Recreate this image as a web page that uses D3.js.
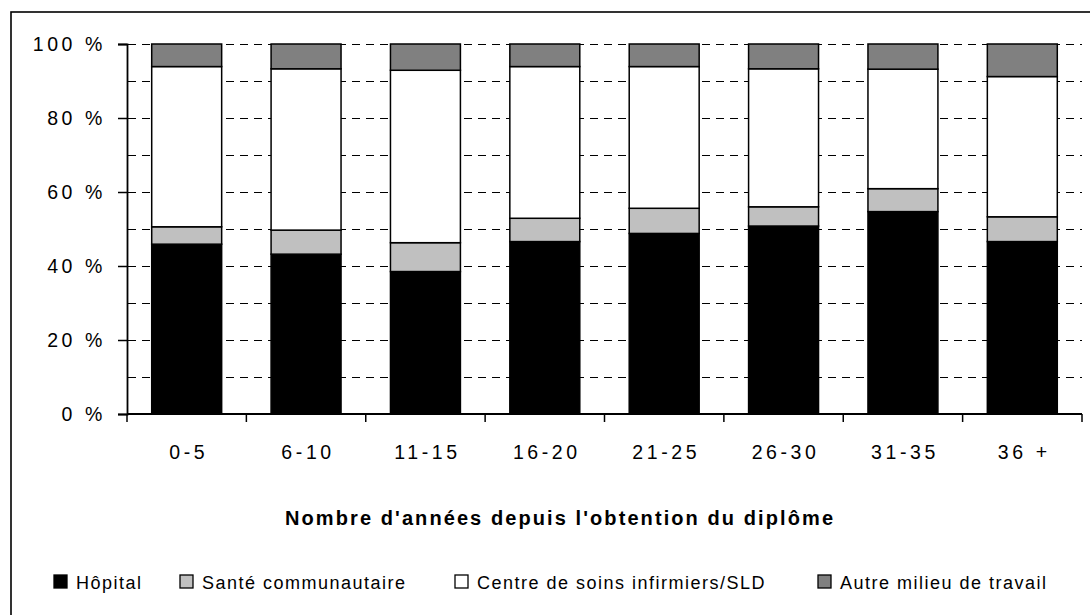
<!DOCTYPE html>
<html>
<head>
<meta charset="utf-8">
<script src="https://cdn.jsdelivr.net/npm/d3@7"></script>
<style>
  html, body { margin: 0; padding: 0; background: #fff; }
  svg { display: block; font-family: Arial, "Liberation Sans", sans-serif; }
</style>
</head>
<body>
<svg id="chart" width="1090" height="615"></svg>
<script>
// Years since graduation
const categories = ["0-5", "6-10", "11-15", "16-20", "21-25", "26-30", "31-35", "36 +"];

// Share of nurses by work setting (%)
const hopital = [45.9, 43.2, 38.5, 46.6, 48.8, 50.8, 54.7, 46.6];
const santeCommunautaire = [4.7, 6.5, 7.8, 6.3, 6.8, 5.2, 6.2, 6.7];
const centreSoins = [43.3, 43.6, 46.6, 41.0, 38.3, 37.3, 32.3, 37.9];
const autreMilieu = [6.1, 6.7, 7.1, 6.1, 6.1, 6.7, 6.8, 8.8];

const seriesNames = ["Hôpital", "Santé communautaire", "Centre de soins infirmiers/SLD", "Autre milieu de travail"];
const seriesColors = ["#000000", "#c0c0c0", "#ffffff", "#808080"];
const yTicks = [0, 20, 40, 60, 80, 100];
const gridValues = [10, 20, 30, 40, 50, 60, 70, 80, 90, 100];
const xTitle = "Nombre d'années depuis l'obtention du diplôme";

const rows = categories.map((c, i) => ({
  cat: c,
  s0: hopital[i], s1: santeCommunautaire[i], s2: centreSoins[i], s3: autreMilieu[i]
}));
const keys = ["s0", "s1", "s2", "s3"];

const svg = d3.select("#chart");

// outer frame
svg.append("rect")
  .attr("x", 11).attr("y", 12)
  .attr("width", 1200).attr("height", 700)
  .attr("fill", "none").attr("stroke", "#000").attr("stroke-width", 1.6);

const plot = { left: 127, right: 1082, top: 44, bottom: 414 };

const x = d3.scaleBand()
  .domain(categories)
  .range([plot.left, plot.right])
  .paddingInner(0.414)
  .paddingOuter(0.207);

const y = d3.scaleLinear().domain([0, 100]).range([plot.bottom, plot.top]);

// dashed gridlines
svg.append("g")
  .selectAll("line")
  .data(gridValues)
  .join("line")
  .attr("x1", plot.left + 1).attr("x2", plot.right)
  .attr("y1", d => Math.round(y(d)) + 0.5).attr("y2", d => Math.round(y(d)) + 0.5)
  .attr("stroke", "#000").attr("stroke-width", 1.1)
  .attr("stroke-dasharray", "8,6");

// stacked bars
const stacked = d3.stack().keys(keys)(rows);
svg.append("g")
  .selectAll("g")
  .data(stacked)
  .join("g")
  .attr("fill", (d, i) => seriesColors[i])
  .selectAll("rect")
  .data(d => d)
  .join("rect")
  .attr("x", d => x(d.data.cat))
  .attr("width", x.bandwidth())
  .attr("y", d => y(d[1]))
  .attr("height", d => y(d[0]) - y(d[1]))
  .attr("stroke", "#000")
  .attr("stroke-width", 1.5);

// y axis
const yAxis = d3.axisLeft(y).tickValues(yTicks).tickSize(9).tickFormat(d => d + " %");
const gy = svg.append("g").attr("transform", `translate(${plot.left},0)`).call(yAxis);
gy.select(".domain").attr("stroke-width", 1.8);
gy.selectAll(".tick line").attr("stroke-width", 1.5);
gy.selectAll(".tick text")
  .attr("x", -21)
  .attr("font-size", 19.5)
  .attr("letter-spacing", 3.6)
  .attr("fill", "#000")
  .attr("font-family", "Arial, 'Liberation Sans', sans-serif");

// x axis: ticks at category boundaries
svg.append("line")
  .attr("x1", plot.left).attr("x2", plot.right)
  .attr("y1", plot.bottom).attr("y2", plot.bottom)
  .attr("stroke", "#000").attr("stroke-width", 1.8);
const step = x.step();
const boundaries = d3.range(categories.length + 1).map(i => plot.left + i * step);
svg.append("g")
  .selectAll("line")
  .data(boundaries)
  .join("line")
  .attr("x1", d => d).attr("x2", d => d)
  .attr("y1", plot.bottom).attr("y2", plot.bottom + 8)
  .attr("stroke", "#000").attr("stroke-width", 1.5);

svg.append("g")
  .selectAll("text")
  .data(categories)
  .join("text")
  .attr("x", d => x(d) + x.bandwidth() / 2 + 2)
  .attr("y", 459)
  .attr("text-anchor", "middle")
  .attr("font-size", 19.5)
  .attr("letter-spacing", 3.6)
  .text(d => d);

// axis title
svg.append("text")
  .attr("x", 559).attr("y", 525)
  .attr("text-anchor", "middle")
  .attr("font-size", 20)
  .attr("font-weight", "bold")
  .attr("textLength", 548)
  .attr("lengthAdjust", "spacing")
  .text(xTitle);

// legend
const legendX = [54, 180, 455, 818];
const legend = svg.append("g")
  .selectAll("g")
  .data(seriesNames)
  .join("g")
  .attr("transform", (d, i) => `translate(${legendX[i]},575)`);
legend.append("rect")
  .attr("width", 13).attr("height", 13)
  .attr("fill", (d, i) => seriesColors[i])
  .attr("stroke", "#000").attr("stroke-width", 1.3);
legend.append("text")
  .attr("x", 22).attr("y", 13.5)
  .attr("font-size", 18)
  .attr("letter-spacing", 1.5)
  .text(d => d);
</script>
</body>
</html>
